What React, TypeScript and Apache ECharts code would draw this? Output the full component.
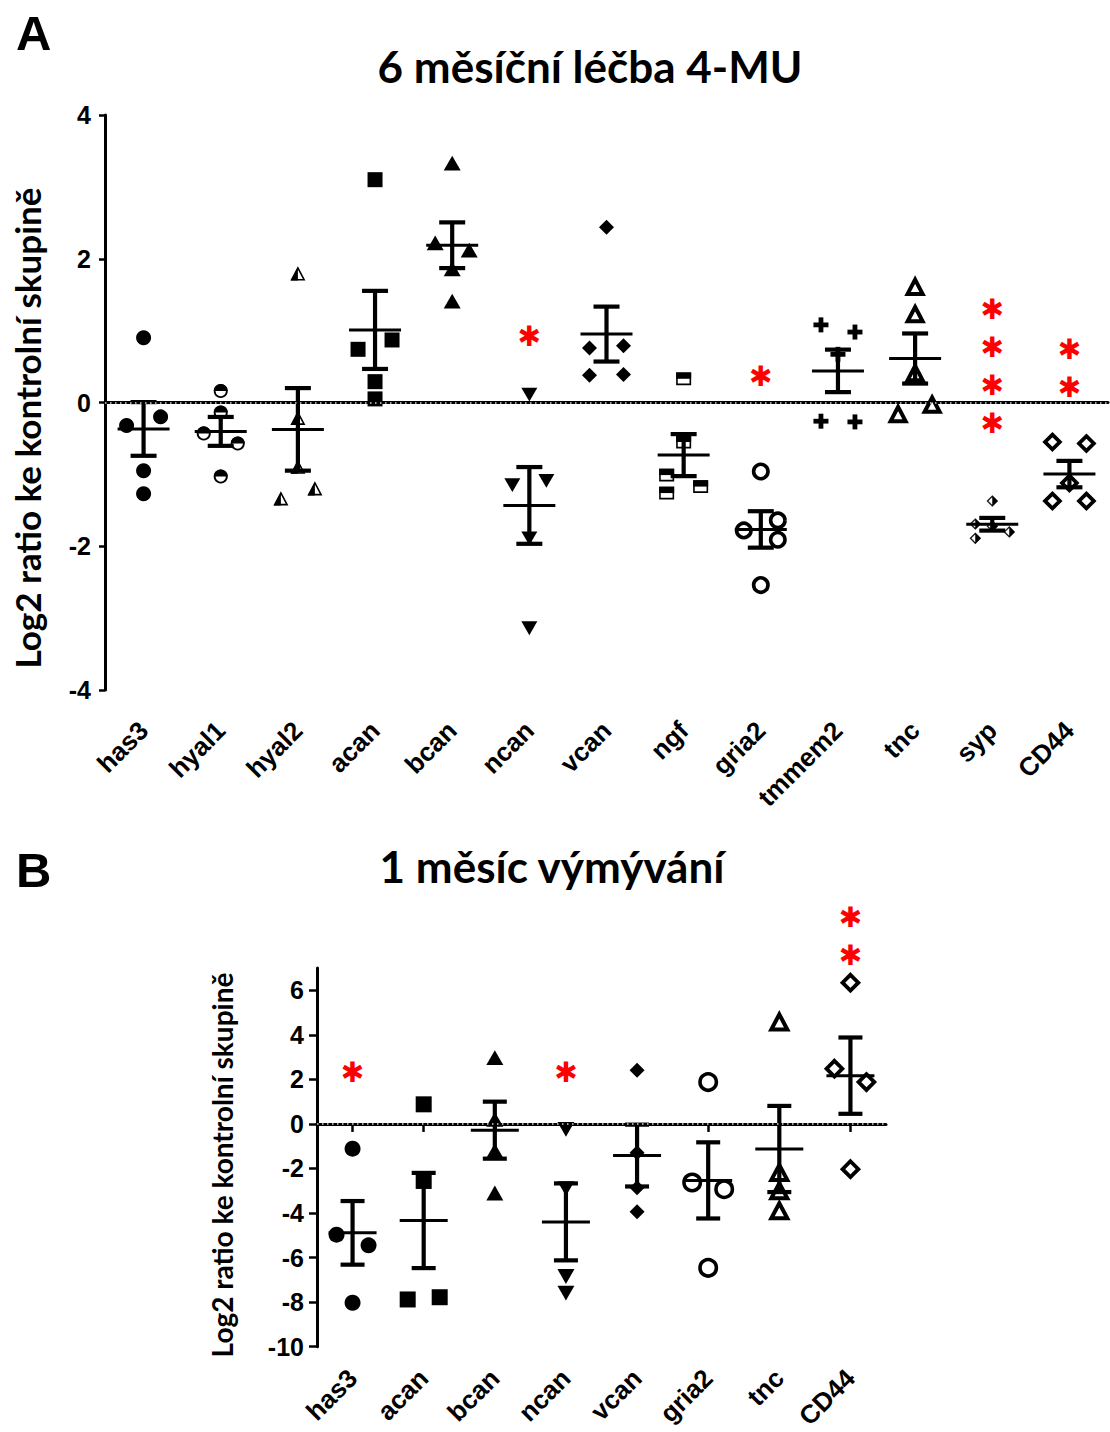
import React, { useEffect, useRef } from 'react';
import * as echarts from 'echarts';

// ---------- Panel A: 6 měsíční léčba 4-MU ----------
const titleA = '6 měsíční léčba 4-MU';
const categoriesA = ['has3', 'hyal1', 'hyal2', 'acan', 'bcan', 'ncan', 'vcan', 'ngf', 'gria2', 'tmmem2', 'tnc', 'syp', 'CD44'];
const has3A = [0.9, -0.32, -0.2, -0.95, -1.27];
const hyal1A = [0.16, -0.14, -0.43, -0.57, -1.03];
const hyal2A = [1.79, -0.22, -0.9, -1.34, -1.2];
const acanA = [3.1, 0.74, 0.87, 0.29, 0.05];
const bcanA = [3.33, 2.22, 2.12, 1.86, 1.41];
const ncanA = [0.11, -1.15, -1.09, -1.89, -3.14];
const vcanA = [2.44, 0.76, 0.79, 0.38, 0.39];
const ngfA = [0.33, -0.55, -1.01, -1.17, -1.26];
const gria2A = [-0.96, -1.78, -1.64, -1.91, -2.54];
const tmmem2A = [1.08, 0.98, 0.67, -0.26, -0.27];
const tncA = [1.61, 1.23, 0.41, -0.16, -0.03];
const sypA = [-1.37, -1.69, -1.8, -1.89, -1.72];
const cd44A = [-0.55, -0.57, -1.12, -1.37, -1.37];
const valuesA = [has3A, hyal1A, hyal2A, acanA, bcanA, ncanA, vcanA, ngfA, gria2A, tmmem2A, tncA, sypA, cd44A];
const yMinA = -4;
const yMaxA = 4;
const yStepA = 2;
// significance asterisks: category, number of stars, value of the topmost star
const starCatsA = ['ncan', 'gria2', 'syp', 'CD44'];
const starCountA = [1, 1, 4, 2];
const starTopA = [0.92, 0.36, 1.29, 0.74];

// ---------- Panel B: 1 měsíc výmývání ----------
const titleB = '1 měsíc výmývání';
const categoriesB = ['has3', 'acan', 'bcan', 'ncan', 'vcan', 'gria2', 'tnc', 'CD44'];
const has3B = [-1.11, -4.97, -5.45, -8.03];
const acanB = [0.88, -2.56, -7.88, -7.78];
const bcanB = [2.98, 0.2, -1.2, -3.1];
const ncanB = [-0.24, -2.9, -6.85, -7.6];
const vcanB = [2.41, -1.29, -2.86, -3.94];
const gria2B = [1.88, -2.63, -2.93, -6.46];
const tncB = [4.58, -2.18, -3.0, -3.9];
const cd44B = [6.34, 2.48, 1.88, -2.03];
const valuesB = [has3B, acanB, bcanB, ncanB, vcanB, gria2B, tncB, cd44B];
const yMinB = -10;
const yMaxB = 7;
const yStepB = 2;
const yTicksB = [-10, -8, -6, -4, -2, 0, 2, 4, 6];
const starCatsB = ['has3', 'ncan', 'CD44'];
const starCountB = [1, 1, 2];
const starTopB = [2.33, 2.33, 9.28];

const yTitle = 'Log2 ratio ke kontrolní skupině';

// ---------- styles ----------
const shapesA = ['circle', 'halfCircleTop', 'halfTriLeft', 'square', 'triUp', 'triDown', 'diamond', 'halfSquareTop', 'hollowCircle', 'plus', 'hollowTri', 'halfDiamondRight', 'hollowDiamond'];
const shapesB = ['circle', 'square', 'triUp', 'triDown', 'diamond', 'hollowCircle', 'hollowTri', 'hollowDiamond'];
const sizesA: Record<string, number> = {
  circle: 15, halfCircleTop: 14, halfTriLeft: 14, square: 15, triUp: 17, triDown: 16, diamond: 15,
  halfSquareTop: 15, hollowCircle: 18, plus: 15, hollowTri: 21, halfDiamondRight: 11, hollowDiamond: 20,
};
const sizesB: Record<string, number> = {
  circle: 16, square: 16, triUp: 17, triDown: 17, diamond: 15, hollowCircle: 20, hollowTri: 22, hollowDiamond: 21,
};
const K = '#000';
const W = '#fff';

function assignSlots(ys: number[], thr: number): number[] {
  const slots: number[] = [];
  ys.forEach((y, i) => {
    const clustered = ys.some((y2, j) => j !== i && Math.abs(y2 - y) < thr);
    const cands = clustered ? [-1, 1, 0, -2, 2] : [0, -1, 1, -2, 2];
    for (const c of cands) {
      const hit = slots.some((s, j) => s === c && Math.abs(ys[j] - y) < thr);
      if (!hit) {
        slots.push(c);
        return;
      }
    }
    slots.push(0);
  });
  return slots;
}

function marker(kind: string, x: number, y: number, s: number): any[] {
  const h = s / 2;
  const tri = (hw: number, th: number, up: boolean) =>
    up
      ? [[x, y - th / 2], [x + hw, y + th / 2], [x - hw, y + th / 2]]
      : [[x - hw, y - th / 2], [x + hw, y - th / 2], [x, y + th / 2]];
  switch (kind) {
    case 'circle':
      return [{ type: 'circle', shape: { cx: x, cy: y, r: h }, style: { fill: K } }];
    case 'square':
      return [{ type: 'rect', shape: { x: x - h, y: y - h, width: s, height: s }, style: { fill: K } }];
    case 'triUp':
      return [{ type: 'polygon', shape: { points: tri(h, s * 0.87, true) }, style: { fill: K } }];
    case 'triDown':
      return [{ type: 'polygon', shape: { points: tri(h, s * 0.87, false) }, style: { fill: K } }];
    case 'diamond':
      return [{ type: 'polygon', shape: { points: [[x, y - h], [x + h, y], [x, y + h], [x - h, y]] }, style: { fill: K } }];
    case 'halfCircleTop':
      return [
        { type: 'circle', shape: { cx: x, cy: y, r: h - 0.9 }, style: { fill: W, stroke: K, lineWidth: 1.8 } },
        { type: 'sector', shape: { cx: x, cy: y, r0: 0, r: h, startAngle: Math.PI, endAngle: 2 * Math.PI }, style: { fill: K } },
      ];
    case 'halfSquareTop': {
      const hh = s * 0.85;
      return [
        { type: 'rect', shape: { x: x - h + 0.8, y: y - hh / 2 + 0.8, width: s - 1.6, height: hh - 1.6 }, style: { fill: W, stroke: K, lineWidth: 1.6 } },
        { type: 'rect', shape: { x: x - h, y: y - hh / 2, width: s, height: hh / 2 }, style: { fill: K } },
      ];
    }
    case 'halfTriLeft': {
      const th = s * 0.95;
      return [
        { type: 'polygon', shape: { points: tri(h - 0.8, th - 1.6, true) }, style: { fill: W, stroke: K, lineWidth: 1.6, lineJoin: 'miter' } },
        { type: 'polygon', shape: { points: [[x, y - th / 2], [x, y + th / 2], [x - h, y + th / 2]] }, style: { fill: K } },
      ];
    }
    case 'halfDiamondRight':
      return [
        { type: 'polygon', shape: { points: [[x, y - h + 0.7], [x + h - 0.7, y], [x, y + h - 0.7], [x - h + 0.7, y]] }, style: { fill: W, stroke: '#222', lineWidth: 1.4 } },
        { type: 'polygon', shape: { points: [[x, y - h], [x + h, y], [x, y + h]] }, style: { fill: K } },
      ];
    case 'hollowCircle':
      return [{ type: 'circle', shape: { cx: x, cy: y, r: h - 1.8 }, style: { fill: W, stroke: K, lineWidth: 3.6 } }];
    case 'hollowTri': {
      const hw = h - 3;
      const th = s * 0.87 - 4;
      return [{ type: 'polygon', shape: { points: tri(hw, th, true) }, style: { fill: W, stroke: K, lineWidth: 4, lineJoin: 'miter' } }];
    }
    case 'hollowDiamond': {
      const d = h - 2.6;
      return [{ type: 'polygon', shape: { points: [[x, y - d], [x + d, y], [x, y + d], [x - d, y]] }, style: { fill: W, stroke: K, lineWidth: 3.8, lineJoin: 'miter' } }];
    }
    case 'plus': {
      const t = s * 0.32;
      return [
        { type: 'rect', shape: { x: x - h, y: y - t / 2, width: s, height: t }, style: { fill: K } },
        { type: 'rect', shape: { x: x - t / 2, y: y - h, width: t, height: s }, style: { fill: K } },
      ];
    }
  }
  return [];
}

function seg(x1: number, y1: number, x2: number, y2: number, lw: number) {
  return { type: 'line', shape: { x1, y1, x2, y2 }, style: { stroke: K, lineWidth: lw, lineCap: 'butt' } };
}

function makeRenderer(values: number[][], shapes: string[], sizes: Record<string, number>, jitter: number, meanHalf: number, capHalf: number) {
  return (params: any, api: any) => {
    const ci = api.value(0);
    const vals = values[ci];
    const kind = shapes[ci];
    const s = sizes[kind];
    const cx = api.coord([ci, 0])[0];
    const ys = vals.map((v) => api.coord([ci, v])[1]);
    const slots = assignSlots(ys, s * 0.8);
    const children: any[] = [];
    vals.forEach((v, k) => {
      children.push(...marker(kind, cx + slots[k] * jitter, ys[k], s));
    });
    const n = vals.length;
    const mean = vals.reduce((a, b) => a + b, 0) / n;
    const sd = Math.sqrt(vals.reduce((a, b) => a + (b - mean) * (b - mean), 0) / (n - 1));
    const sem = sd / Math.sqrt(n);
    const yM = api.coord([ci, mean])[1];
    const yT = api.coord([ci, mean + sem])[1];
    const yB = api.coord([ci, mean - sem])[1];
    children.push(seg(cx, yT, cx, yB, 4.2));
    children.push(seg(cx - capHalf, yT, cx + capHalf, yT, 4.2));
    children.push(seg(cx - capHalf, yB, cx + capHalf, yB, 4.2));
    children.push(seg(cx - meanHalf, yM, cx + meanHalf, yM, 3));
    return { type: 'group', children };
  };
}

const STAR_FS = 28;
const STAR_LH = 38;
function makeStarRenderer(counts: number[]) {
  return (params: any, api: any) => {
    const n = counts[params.dataIndex];
    const p = api.coord([api.value(0), api.value(1)]);
    const text = Array.from({ length: n }, () => '✱').join('\n');
    return {
      type: 'text',
      x: p[0],
      y: p[1] + ((n - 1) * STAR_LH) / 2,
      style: {
        text,
        fill: '#ff0000',
        fontSize: STAR_FS,
        fontFamily: 'DejaVu Sans',
        lineHeight: STAR_LH,
        align: 'center',
        verticalAlign: 'middle',
      },
    };
  };
}

const tickLabelStyle = { color: '#000', fontFamily: 'Liberation Sans', fontWeight: 'bold' as const };

export default function App() {
  const ref = useRef<HTMLDivElement>(null);
  useEffect(() => {
    if (!ref.current) return;
    const chart = echarts.init(ref.current, null, { renderer: 'svg' });
    const zeroLine = {
      silent: true,
      symbol: 'none',
      label: { show: false },
      lineStyle: { type: [1.5, 3.5], color: '#a0a0a0', width: 1.8 },
      data: [{ yAxis: 0 }],
    };
    const option: any = {
      animation: false,
      backgroundColor: '#fff',
      grid: [
        { left: 105, top: 115, width: 1003, height: 575 },
        { left: 317, top: 968, width: 569, height: 379 },
      ],
      xAxis: [
        {
          gridIndex: 0,
          type: 'category',
          data: categoriesA,
          boundaryGap: true,
          axisLine: { lineStyle: { color: K, width: 3 } },
          axisTick: { show: false },
          axisLabel: { ...tickLabelStyle, fontSize: 26, rotate: 45, interval: 0, margin: 36 },
        },
        {
          gridIndex: 1,
          type: 'category',
          data: categoriesB,
          boundaryGap: true,
          axisLine: { lineStyle: { color: K, width: 3 } },
          axisTick: { show: true, alignWithLabel: true, length: 8, lineStyle: { color: K, width: 2.5 } },
          axisLabel: { ...tickLabelStyle, fontSize: 26, rotate: 45, interval: 0, margin: 27 },
        },
      ],
      yAxis: [
        {
          gridIndex: 0,
          type: 'value',
          min: yMinA,
          max: yMaxA,
          interval: yStepA,
          axisLine: { show: true, lineStyle: { color: K, width: 3 } },
          axisTick: { show: true, length: 6, lineStyle: { color: K, width: 2.5 } },
          splitLine: { show: false },
          axisLabel: { ...tickLabelStyle, fontSize: 25, margin: 14 },
        },
        {
          gridIndex: 1,
          type: 'value',
          min: yMinB,
          max: yMaxB,
          interval: yStepB,
          axisLine: { show: true, lineStyle: { color: K, width: 3 } },
          axisTick: { show: true, length: 8, customValues: yTicksB, lineStyle: { color: K, width: 2.5 } },
          splitLine: { show: false },
          axisLabel: {
            ...tickLabelStyle,
            fontSize: 25,
            margin: 13,
            customValues: yTicksB,
            formatter: (v: number) => (yTicksB.indexOf(v) >= 0 ? String(v) : ''),
          },
        },
      ],
      graphic: [
        { type: 'text', x: 16, y: 33, style: { text: 'A', fontSize: 49, fontWeight: 'bold', fontFamily: 'Liberation Sans', fill: K, verticalAlign: 'middle' } },
        { type: 'text', x: 590, y: 66, style: { text: titleA, fontSize: 44, fontWeight: 'bold', fontFamily: 'Lato', fill: K, align: 'center', verticalAlign: 'middle' } },
        { type: 'text', x: 27, y: 428, rotation: Math.PI / 2, style: { text: yTitle, fontSize: 35, fontWeight: 'bold', fontFamily: 'Lato', fill: K, align: 'center', verticalAlign: 'middle' } },
        { type: 'text', x: 16, y: 870, style: { text: 'B', fontSize: 49, fontWeight: 'bold', fontFamily: 'Liberation Sans', fill: K, verticalAlign: 'middle' } },
        { type: 'text', x: 552, y: 866, style: { text: titleB, fontSize: 44, fontWeight: 'bold', fontFamily: 'Lato', fill: K, align: 'center', verticalAlign: 'middle' } },
        { type: 'text', x: 222, y: 1165, rotation: Math.PI / 2, style: { text: yTitle, fontSize: 28, fontWeight: 'bold', fontFamily: 'Lato', fill: K, align: 'center', verticalAlign: 'middle' } },
      ],
      series: [
        {
          type: 'custom',
          xAxisIndex: 0,
          yAxisIndex: 0,
          z: 1,
          clip: false,
          data: starCatsA.map((c, i) => [categoriesA.indexOf(c), starTopA[i]]),
          encode: { x: 0, y: 1 },
          renderItem: makeStarRenderer(starCountA),
          markLine: zeroLine,
        },
        {
          type: 'custom',
          xAxisIndex: 0,
          yAxisIndex: 0,
          z: 3,
          clip: false,
          data: categoriesA.map((c, i) => [i, 0]),
          encode: { x: 0, y: 1 },
          renderItem: makeRenderer(valuesA, shapesA, sizesA, 17, 26, 13),
        },
        {
          type: 'custom',
          xAxisIndex: 1,
          yAxisIndex: 1,
          z: 1,
          clip: false,
          data: starCatsB.map((c, i) => [categoriesB.indexOf(c), starTopB[i]]),
          encode: { x: 0, y: 1 },
          renderItem: makeStarRenderer(starCountB),
          markLine: zeroLine,
        },
        {
          type: 'custom',
          xAxisIndex: 1,
          yAxisIndex: 1,
          z: 3,
          clip: false,
          data: categoriesB.map((c, i) => [i, 0]),
          encode: { x: 0, y: 1 },
          renderItem: makeRenderer(valuesB, shapesB, sizesB, 16, 24, 12),
        },
      ],
    };
    chart.setOption(option);
    return () => chart.dispose();
  }, []);
  return <div ref={ref} style={{ position: 'absolute', left: 0, top: 0, width: 1110, height: 1432, background: '#fff' }} />;
}
